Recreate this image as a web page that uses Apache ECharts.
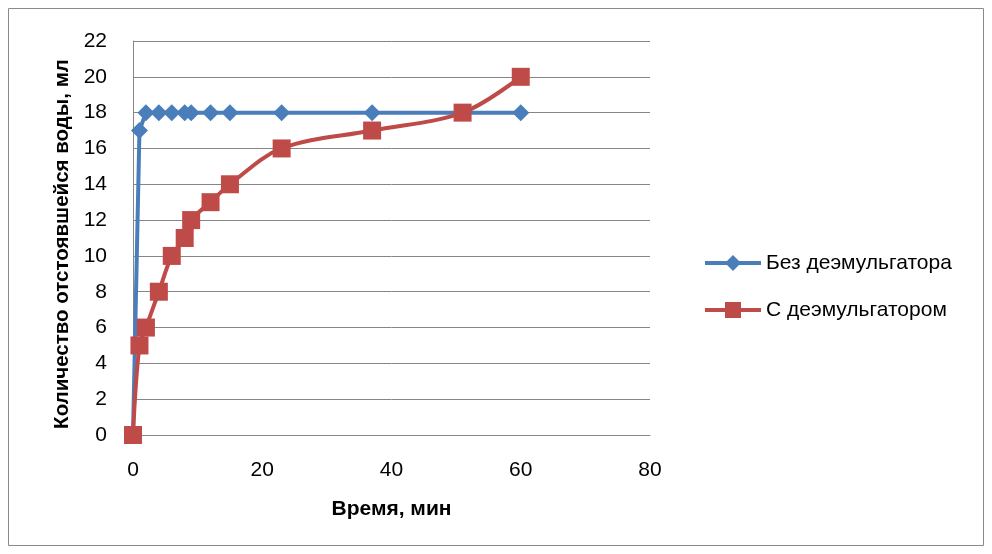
<!DOCTYPE html>
<html><head><meta charset="utf-8">
<script src="https://cdn.jsdelivr.net/npm/echarts@6/dist/echarts.min.js"></script>
<style>html,body{margin:0;padding:0;background:#fff}#c{width:992px;height:554px}</style>
</head><body><div id="c"></div>
<script>
const times = [0, 1, 2, 4, 6, 8, 9, 12, 15, 23, 37, 51, 60];
const noDemulsifier = [0, 17, 18, 18, 18, 18, 18, 18, 18, 18, 18, 18, 18];
const withDemulsifier = [0, 5, 6, 8, 10, 11, 12, 13, 14, 16, 17, 18, 20];
const seriesNames = ['Без деэмульгатора', 'С деэмульгатором'];
const xTitle = 'Время, мин';
const yTitle = 'Количество отстоявшейся воды, мл';

const font = 'Liberation Sans';
const chart = echarts.init(document.getElementById('c'));
chart.setOption({
  animation: false,
  graphic: [{type:'rect', shape:{x:8.5,y:8.5,width:975,height:537}, style:{fill:'none', stroke:'#8a8a8a', lineWidth:1}, silent:true}],
  grid: {left:133, right:342, top:41, bottom:119, containLabel:false},
  legend: {
    orient:'vertical', left:703, top:252, padding:0, itemGap:25, itemWidth:56, itemHeight:20,
    textStyle:{fontFamily:font, fontSize:21, lineHeight:22, color:'#000'},
    lineStyle:{width:4},
    data: seriesNames
  },
  xAxis: {
    type:'value', min:0, max:80, interval:20,
    name:xTitle, nameLocation:'middle', nameGap:64,
    nameTextStyle:{fontFamily:font, fontSize:21, fontWeight:'bold', color:'#000'},
    axisLine:{show:true, lineStyle:{color:'#868686'}},
    axisTick:{show:false},
    axisLabel:{fontFamily:font, fontSize:21, color:'#000', margin:25},
    splitLine:{show:false}
  },
  yAxis: {
    type:'value', min:0, max:22, interval:2,
    name:yTitle, nameLocation:'middle', nameGap:54, nameRotate:90,
    nameTextStyle:{fontFamily:font, fontSize:20.5, fontWeight:'bold', color:'#000', padding:[0,0,0,-12]},
    axisLine:{show:true, lineStyle:{color:'#868686'}},
    axisTick:{show:false},
    axisLabel:{fontFamily:font, fontSize:21, color:'#000', margin:26},
    splitLine:{show:true, lineStyle:{color:'#868686', width:1}}
  },
  series: [
    {
      name:seriesNames[0], type:'line',
      data: times.map((t,i)=>[t, noDemulsifier[i]]),
      symbol:'diamond', symbolSize:17,
      lineStyle:{color:'#4a7ebb', width:4},
      itemStyle:{color:'#4a7ebb'},
      z:2
    },
    {
      name:seriesNames[1], type:'line', smooth:0.35,
      data: times.map((t,i)=>[t, withDemulsifier[i]]),
      symbol:'rect', symbolSize:18,
      lineStyle:{color:'#be4b48', width:4},
      itemStyle:{color:'#be4b48'},
      z:3
    }
  ]
});
</script></body></html>
